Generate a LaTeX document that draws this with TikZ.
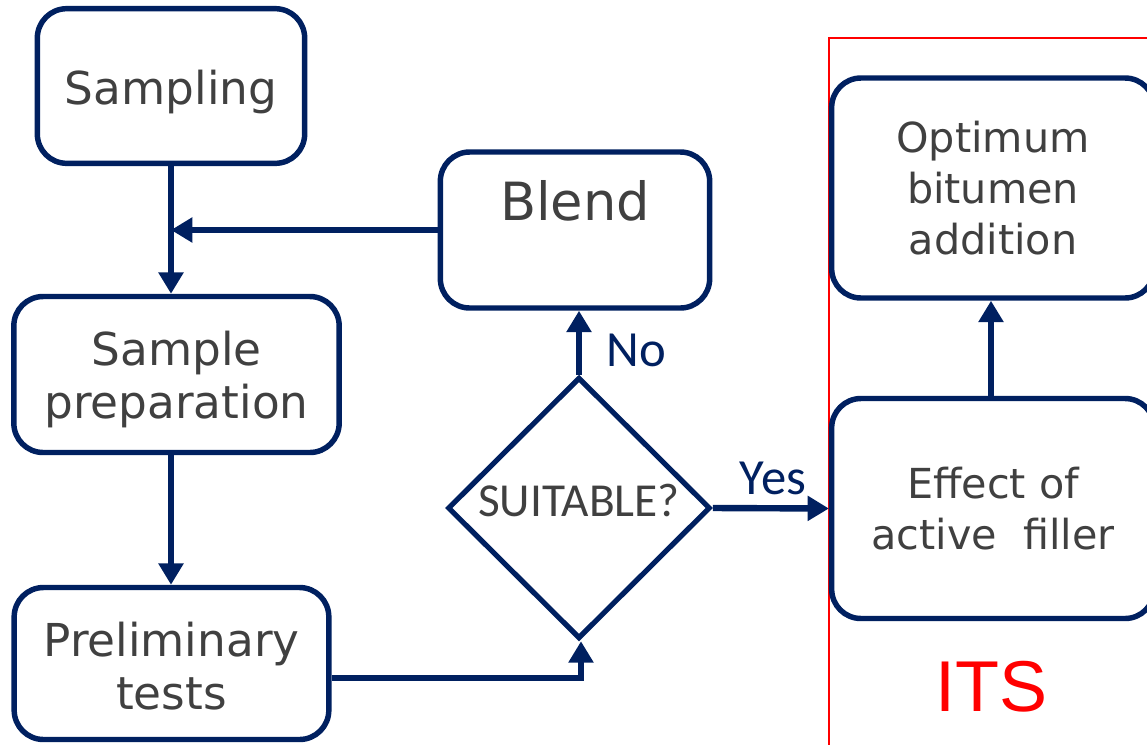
\documentclass[tikz,border=0pt]{standalone}
\usepackage{fontspec}
\setmainfont{DejaVu Sans}
\newfontfamily\calibri{Carlito}
\newfontfamily\arialfont{Liberation Sans}
\usetikzlibrary{arrows.meta,shapes.geometric}
\definecolor{navy}{RGB}{0,32,96}
\definecolor{txtgrey}{RGB}{64,64,64}
\tikzset{
  stage/.style={draw=navy, line width=4.1pt, rounded corners=22pt, align=center,
    text=txtgrey, inner sep=0pt, font=\fontsize{34}{40}\selectfont},
  test/.style={diamond, draw=navy, line width=3.9pt, inner sep=0pt, text=txtgrey,
    align=center, font=\calibri\fontsize{35.5}{40}\selectfont},
  flow/.style={draw=navy, line width=4.8pt, -{Triangle[width=18pt,length=16pt]}},
  answer/.style={text=navy, font=\calibri\fontsize{38}{40}\selectfont}
}
\begin{document}
\begin{tikzpicture}[x=0.75pt,y=-0.75pt]
  \useasboundingbox (0,0) rectangle (1147,744);
  % ITS frame
  \draw[red, line width=1.5pt] (829,38) rectangle (1170,770);
  \node[text=red, font=\arialfont\fontsize{54}{60}\selectfont] (its) at (991,687) {ITS};
  % stages
  \node[stage, minimum width=200.5pt, minimum height=116pt] (samp) at (171,86) {\phantom{S}\\[-31pt]Sampling};
  \node[stage, minimum width=244pt, minimum height=117pt] (prep) at (176.5,374.5) {\phantom{S}\\[-32pt]Sample\\preparation};
  \node[stage, minimum width=236pt, minimum height=114pt] (prelim) at (171.5,663.5) {\phantom{P}\\[-35pt]Preliminary\\tests};
  \node[stage, minimum width=202pt, minimum height=117pt, font=\fontsize{39.5}{44}\selectfont] (blend) at (575,230) {Blend\\[1pt]\phantom{B}};
  \node[test, minimum width=197pt, minimum height=196pt] (suit) at (579,508) {SUITABLE?\\[-28pt]\phantom{S}};
  \node[stage, minimum width=242pt, minimum height=165pt, font=\fontsize{31}{38}\selectfont] (opt) at (993,188) {Optimum\\bitumen\\addition};
  \node[stage, minimum width=242pt, minimum height=165pt, font=\fontsize{31}{38}\selectfont] (eff) at (993,508.5) {Effect of\\active\ \ filler};
  % connectors
  \draw[flow] (samp.south) -- (samp.south |- prep.north);
  \draw[flow] (blend.west) -- (blend.west -| samp.south);
  \draw[flow] (prep.south -| samp.south) -- (prelim.north -| samp.south);
  \draw[flow] ([yshift=-11pt]prelim.east) -| ([xshift=1.5pt]suit.south);
  \draw[flow] (suit.north) -- (suit.north |- blend.south);
  \draw[flow] (suit.east) -- (eff.west);
  \draw[flow] ([xshift=-1.5pt]eff.north) -- ([xshift=-1.5pt]opt.south);
  % answers
  \node[answer] (no) at (636,350) {No};
  \node[answer] (yes) at (773,478) {Yes};
\end{tikzpicture}
\end{document}
